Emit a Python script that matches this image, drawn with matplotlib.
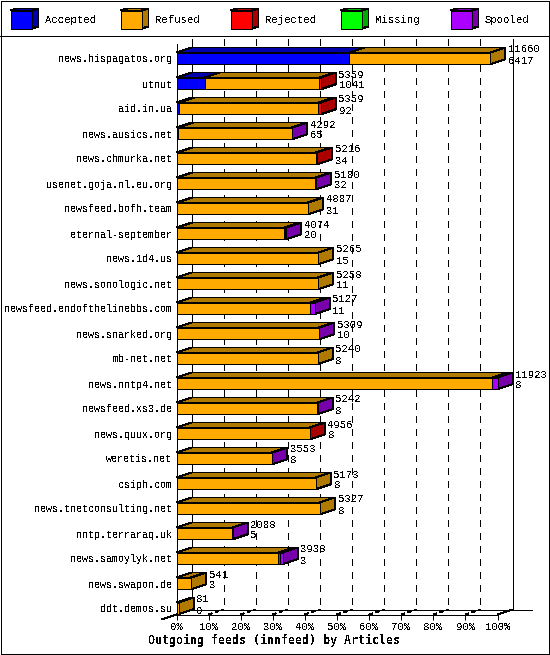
import matplotlib
matplotlib.use("Agg")
import matplotlib.pyplot as plt
from matplotlib.patches import Polygon, Rectangle

hosts = ["news.hispagatos.org", "utnut", "aid.in.ua", "news.ausics.net", "news.chmurka.net",
         "usenet.goja.nl.eu.org", "newsfeed.bofh.team", "eternal-september", "news.1d4.us",
         "news.sonologic.net", "newsfeed.endofthelinebbs.com", "news.snarked.org", "mb-net.net",
         "news.nntp4.net", "newsfeed.xs3.de", "news.quux.org", "weretis.net", "csiph.com",
         "news.tnetconsulting.net", "nntp.terraraq.uk", "news.samoylyk.net", "news.swapon.de",
         "ddt.demos.su"]
accepted = [6417, 1041, 92, 65, 34, 32, 31, 20, 15, 11, 11, 10, 8, 8, 8, 8, 8, 8, 8, 5, 3, 3, 0]
refused = [5243, 4258, 5167, 4207, 5142, 5118, 4856, 3984, 5250, 5247, 4966, 5284, 5232, 11720,
           5219, 4933, 3530, 5165, 5319, 2073, 3770, 538, 81]
rejected = [0, 60, 100, 0, 40, 0, 0, 35, 0, 0, 0, 0, 0, 0, 0, 15, 0, 0, 0, 0, 60, 0, 0]
missing = [0] * 23
spooled = [0, 0, 0, 20, 0, 30, 0, 35, 0, 0, 150, 15, 0, 195, 15, 0, 15, 0, 0, 10, 105, 0, 0]
totals = [11660, 5359, 5359, 4292, 5216, 5180, 4887, 4074, 5265, 5258, 5127, 5309, 5240, 11923,
          5242, 4956, 3553, 5173, 5327, 2088, 3938, 541, 81]
series_names = ["Accepted", "Refused", "Rejected", "Missing", "Spooled"]
series = [accepted, refused, rejected, missing, spooled]
front_colors = ["#0000FF", "#FFAA00", "#FF0000", "#00FF00", "#AA00FF"]
dark_colors = ["#0000AA", "#B07A00", "#AA0000", "#00AA00", "#7700AA"]
percent_ticks = [0, 10, 20, 30, 40, 50, 60, 70, 80, 90, 100]
title = "Outgoing feeds (innfeed) by Articles"

W, H = 550, 655
plt.rcParams["text.antialiased"] = False
plt.rcParams["font.family"] = ["Liberation Mono", "DejaVu Sans Mono"]
LW = 0.72
FS = 7.2
FS_NUM = 7.7
fig = plt.figure(figsize=(W / 100, H / 100), dpi=100, facecolor="white")

# page frame and legend, in pixel coordinates
page = fig.add_axes([0, 0, 1, 1], zorder=0)
page.set_xlim(0, W)
page.set_ylim(H, 0)
page.axis("off")
page.add_patch(Rectangle((0.5, 0.5), W - 1.5, H - 1.5, fill=False, ec="black", lw=LW, antialiased=False))
page.plot([0, W], [35.5, 35.5], color="black", lw=LW, antialiased=False)
for i, name in enumerate(series_names):
    x0 = 10.5 + 110 * i
    page.add_patch(Polygon([(x0 + 21, 10.5), (x0 + 28, 8.5), (x0 + 28, 26.5), (x0 + 21, 28.5)],
                           fc=dark_colors[i], ec="black", lw=LW, antialiased=False))
    page.add_patch(Polygon([(x0, 10.5), (x0 + 7, 8.5), (x0 + 28, 8.5), (x0 + 21, 10.5)],
                           fc=dark_colors[i], ec="black", lw=LW, antialiased=False))
    page.add_patch(Rectangle((x0, 10.5), 21, 18, fc=front_colors[i], ec="black", lw=LW, antialiased=False))
    page.text(x0 + 34.5, 20, name, fontsize=FS_NUM, va="center", ha="left", color="black")

# chart area: front plane of the 3D box
xmax = max(totals)
px_left, px_right, px_top, px_bottom = 176.5, 497.5, 39.5, 614.5
ax = fig.add_axes([px_left / W, 1 - px_bottom / H, (px_right - px_left) / W, (px_bottom - px_top) / H],
                  zorder=1)
ax.patch.set_alpha(0)
row_px = 25.0
y_bottom = 22.24
y_top = y_bottom - (px_bottom - px_top) / row_px
ax.set_xlim(0, xmax)
ax.set_ylim(y_bottom, y_top)
for s in ax.spines.values():
    s.set_visible(False)
px_x = xmax / (px_right - px_left)
dx = 15 * px_x
dy = 5 / row_px
half = 6 / row_px

ax.set_yticks(range(len(hosts)), hosts, fontsize=FS)
ax.tick_params(axis="y", length=0, pad=3.2)
ax.set_xticks([p / 100 * xmax for p in percent_ticks], [f"{p}%" for p in percent_ticks], fontsize=FS_NUM)
ax.tick_params(axis="x", length=3.6, width=LW, pad=1.5, direction="out")
ax.set_xlabel(title, fontsize=8.4, fontweight="bold", family="DejaVu Sans Mono", labelpad=1.5)
ax.xaxis.label.set_x((274 - px_left) / (px_right - px_left))


def ln(xs, ys, z=1, **kw):
    ax.plot(xs, ys, color="black", lw=LW, antialiased=False, clip_on=False, zorder=z, solid_capstyle="butt", **kw)


# walls
for p in percent_ticks[1:-1]:
    x = p / 100 * xmax
    ln([x + dx, x + dx], [y_top, y_bottom - dy], linestyle=(0, (6, 6)))
    ln([x, x + dx], [y_bottom, y_bottom - dy], linestyle=(0, (3, 3)))
ln([dx, dx], [y_top, y_bottom - dy])
ln([xmax + dx, xmax + dx], [y_top, y_bottom - dy])
ln([0, 0], [y_top + dy, y_bottom], z=4)
ln([0, xmax], [y_bottom, y_bottom], z=1)
ln([xmax, xmax + dx], [y_bottom, y_bottom - dy])
ln([-dx, dx], [y_bottom + dy, y_bottom - dy])
ln([dx, xmax + 34 * px_x], [y_bottom - dy, y_bottom - dy])

# bars
for r, host in enumerate(hosts):
    top, bot = r - half, r + half - 0.01
    pos = 0
    last = None
    for k, vals in enumerate(series):
        v = vals[r]
        if v <= 0:
            continue
        ax.add_patch(Polygon([(pos, top), (pos + dx, top - dy), (pos + v + dx, top - dy), (pos + v, top)],
                             fc=dark_colors[k], ec="black", lw=LW, antialiased=False, clip_on=False, zorder=3))
        ax.add_patch(Rectangle((pos, top), v, bot - top, fc=front_colors[k], ec="black", lw=LW,
                               antialiased=False, clip_on=False, zorder=3.5))
        pos += v
        last = k
    ax.add_patch(Polygon([(pos, top), (pos + dx, top - dy), (pos + dx, bot - dy), (pos, bot)],
                         fc=dark_colors[last], ec="black", lw=LW, antialiased=False, clip_on=False, zorder=3.2))
    ax.text(totals[r] + dx + 3 * px_x, r - 9 / row_px, str(totals[r]), fontsize=FS_NUM, va="center", ha="left",
            zorder=5, clip_on=False)
    ax.text(totals[r] + dx + 3 * px_x, r + 2 / row_px, str(accepted[r]), fontsize=FS_NUM, va="center", ha="left",
            zorder=5, clip_on=False)

fig.savefig("out.png", dpi=100)
